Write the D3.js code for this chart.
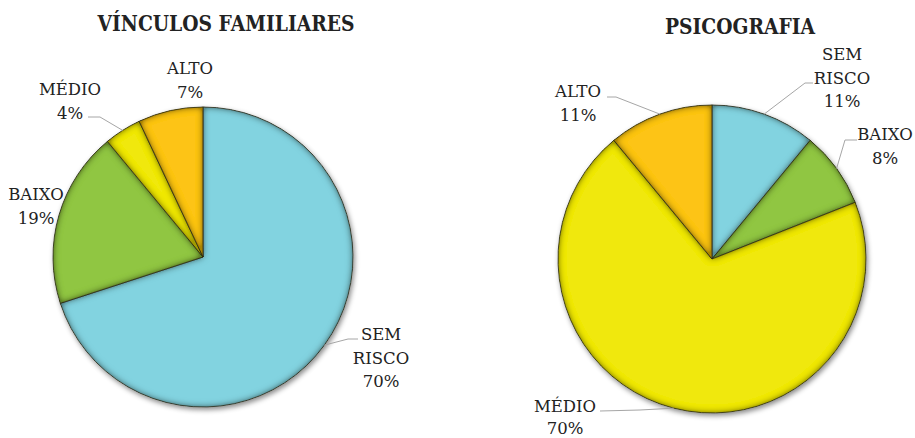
<!DOCTYPE html>
<html>
<head>
<meta charset="utf-8">
<script src="https://cdn.jsdelivr.net/npm/d3@7"></script>
<style>
  html, body { margin: 0; padding: 0; background: #fff; }
</style>
</head>
<body>
<svg id="chart" width="915" height="438"></svg>
<script>
// Risk categories shared by both pies
const categories = ["SEM RISCO", "BAIXO", "MÉDIO", "ALTO"];
const categoryColors = ["#82D3E0", "#90C643", "#F0E80E", "#FDC413"];

// Percentages for each chart
const vinculosValues = [70, 19, 4, 7];
const psicografiaValues = [11, 8, 70, 11];

const titles = ["VÍNCULOS FAMILIARES", "PSICOGRAFIA"];

const serif = "'DejaVu Serif', 'Liberation Serif', serif";

// Layout: pie placement and label anchors (text centre x, first baseline y)
const pies = [
  {
    title: titles[0], values: vinculosValues,
    cx: 203, cy: 257, r: 150,
    titleX: 226, titleY: 31, titleWidth: 257,
    labels: [
      { x: 381, y: 340, lines: ["SEM", "RISCO"], leader: [[358, 339], [348, 339]] },
      { x: 36,  y: 200, lines: ["BAIXO"], leader: null },
      { x: 70,  y: 95,  lines: ["MÉDIO"], leader: [[88, 117], [100, 117]] },
      { x: 190, y: 74,  lines: ["ALTO"], leader: null }
    ]
  },
  {
    title: titles[1], values: psicografiaValues,
    cx: 712, cy: 259, r: 154,
    titleX: 740, titleY: 34, titleWidth: 150,
    labels: [
      { x: 842, y: 60,  lines: ["SEM", "RISCO"], leader: [[813, 83], [805, 83]] },
      { x: 885, y: 140, lines: ["BAIXO"], leader: [[857, 140], [845, 140]] },
      { x: 565, y: 412, lines: ["MÉDIO"], leader: [[600, 411], [640, 410]], gap: 22 },
      { x: 578, y: 97,  lines: ["ALTO"], leader: [[607, 97], [616, 97]] }
    ]
  }
];

const svg = d3.select("#chart");
const defs = svg.append("defs");

// Soft drop shadow under each pie
const shadow = defs.append("filter").attr("id", "pieShadow")
  .attr("x", "-10%").attr("y", "-10%").attr("width", "125%").attr("height", "125%");
shadow.append("feDropShadow").attr("dx", 1.5).attr("dy", 2.5)
  .attr("stdDeviation", 2.5).attr("flood-color", "#000").attr("flood-opacity", 0.45);

// Inner bevel: darken each slice near its edges
const bevel = defs.append("filter").attr("id", "bevel")
  .attr("x", "-5%").attr("y", "-5%").attr("width", "110%").attr("height", "110%");
bevel.append("feGaussianBlur").attr("in", "SourceAlpha").attr("stdDeviation", 3.5).attr("result", "blur");
bevel.append("feComposite").attr("in", "SourceAlpha").attr("in2", "blur")
  .attr("operator", "arithmetic").attr("k1", 0).attr("k2", 2.2).attr("k3", -2.2).attr("k4", 0)
  .attr("result", "edge");
bevel.append("feFlood").attr("flood-color", "#202000").attr("flood-opacity", 0.6).attr("result", "dark");
bevel.append("feComposite").attr("in", "dark").attr("in2", "edge").attr("operator", "in").attr("result", "shade");
const bm = bevel.append("feMerge");
bm.append("feMergeNode").attr("in", "SourceGraphic");
bm.append("feMergeNode").attr("in", "shade");

const pieGen = d3.pie().sort(null).value(d => d.value);

pies.forEach(p => {
  const data = categories.map((c, i) => ({ name: c, value: p.values[i], color: categoryColors[i] }));
  const arcs = pieGen(data);
  const arc = d3.arc().innerRadius(0).outerRadius(p.r);
  const rim = d3.arc().innerRadius(p.r).outerRadius(p.r);

  // Title
  svg.append("text")
    .attr("x", p.titleX).attr("y", p.titleY)
    .attr("text-anchor", "middle")
    .attr("font-family", serif)
    .attr("font-size", 23).attr("font-weight", "bold")
    .attr("fill", "#222")
    .attr("textLength", p.titleWidth).attr("lengthAdjust", "spacingAndGlyphs")
    .text(p.title);

  // Slices
  const g = svg.append("g")
    .attr("transform", `translate(${p.cx},${p.cy})`)
    .attr("filter", "url(#pieShadow)");
  g.selectAll("path.slice").data(arcs).join("path")
    .attr("class", "slice")
    .attr("d", arc)
    .attr("fill", d => d.data.color)
    .attr("stroke", "#3a3a2a")
    .attr("stroke-width", 0.8)
    .attr("filter", "url(#bevel)");

  // Labels and leader lines
  arcs.forEach((a, i) => {
    const lab = p.labels[i];
    if (lab.leader) {
      const [ex, ey] = rim.centroid(a);
      const pts = lab.leader.concat([[p.cx + ex, p.cy + ey]]);
      svg.append("path")
        .attr("d", d3.line()(pts))
        .attr("fill", "none")
        .attr("stroke", "#a6a6a6")
        .attr("stroke-width", 1);
    }
    const lines = lab.lines.concat([a.data.value + "%"]);
    const gap = lab.gap || 23.5;
    const t = svg.append("text")
      .attr("text-anchor", "middle")
      .attr("font-family", serif)
      .attr("font-size", 16.5)
      .attr("fill", "#222");
    lines.forEach((ln, k) => {
      t.append("tspan").attr("x", lab.x).attr("y", lab.y + k * gap).text(ln);
    });
  });
});
</script>
</body>
</html>
